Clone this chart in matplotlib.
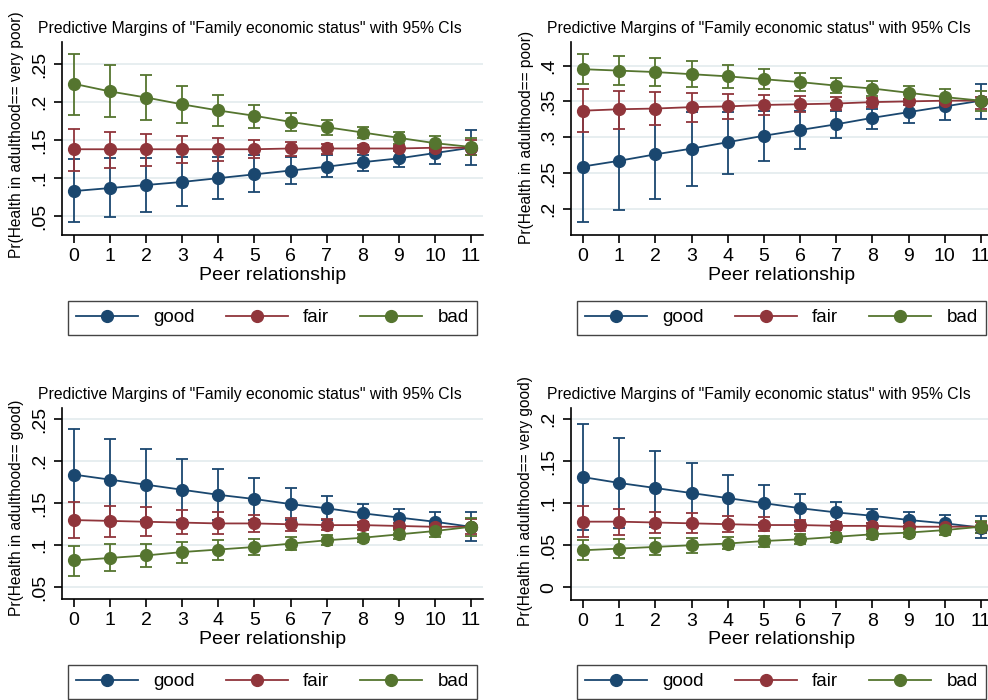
import matplotlib
matplotlib.use("Agg")
import matplotlib.pyplot as plt
from matplotlib.lines import Line2D
from matplotlib.ticker import FuncFormatter

plt.rcParams['font.family'] = ['Liberation Sans', 'DejaVu Sans']

x = list(range(12))
groups = ["good", "fair", "bad"]
colors = ["#1a476f", "#90353b", "#55752f"]

# panel 1: Pr(Health in adulthood== very poor)
vp_good = [0.083, 0.087, 0.091, 0.095, 0.100, 0.105, 0.110, 0.115, 0.121, 0.126, 0.133, 0.140]
vp_good_lo = [0.042, 0.049, 0.056, 0.064, 0.072, 0.082, 0.092, 0.101, 0.110, 0.115, 0.118, 0.117]
vp_good_hi = [0.125, 0.126, 0.126, 0.128, 0.128, 0.130, 0.128, 0.130, 0.131, 0.136, 0.142, 0.163]
vp_fair = [0.138, 0.138, 0.138, 0.138, 0.138, 0.138, 0.139, 0.139, 0.139, 0.139, 0.140, 0.140]
vp_fair_lo = [0.110, 0.114, 0.116, 0.120, 0.122, 0.126, 0.129, 0.132, 0.135, 0.136, 0.137, 0.130]
vp_fair_hi = [0.164, 0.161, 0.158, 0.155, 0.153, 0.150, 0.148, 0.145, 0.143, 0.142, 0.142, 0.150]
vp_bad = [0.224, 0.214, 0.206, 0.197, 0.189, 0.182, 0.174, 0.167, 0.160, 0.153, 0.146, 0.141]
vp_bad_lo = [0.183, 0.180, 0.176, 0.173, 0.169, 0.166, 0.162, 0.157, 0.153, 0.145, 0.139, 0.130]
vp_bad_hi = [0.263, 0.249, 0.235, 0.221, 0.209, 0.196, 0.186, 0.176, 0.167, 0.161, 0.156, 0.153]

# panel 2: Pr(Health in adulthood== poor)
p_good = [0.259, 0.267, 0.276, 0.284, 0.293, 0.302, 0.310, 0.318, 0.327, 0.335, 0.343, 0.351]
p_good_lo = [0.181, 0.198, 0.214, 0.232, 0.249, 0.267, 0.283, 0.299, 0.312, 0.320, 0.324, 0.326]
p_good_hi = [0.337, 0.337, 0.336, 0.335, 0.335, 0.337, 0.336, 0.336, 0.340, 0.345, 0.354, 0.375]
p_fair = [0.337, 0.339, 0.340, 0.342, 0.343, 0.345, 0.346, 0.347, 0.349, 0.350, 0.351, 0.351]
p_fair_lo = [0.307, 0.312, 0.317, 0.321, 0.326, 0.331, 0.335, 0.338, 0.342, 0.345, 0.347, 0.340]
p_fair_hi = [0.367, 0.365, 0.363, 0.362, 0.360, 0.359, 0.357, 0.356, 0.355, 0.354, 0.354, 0.356]
p_bad = [0.395, 0.393, 0.391, 0.388, 0.385, 0.381, 0.377, 0.372, 0.368, 0.362, 0.356, 0.351]
p_bad_lo = [0.375, 0.373, 0.372, 0.370, 0.369, 0.367, 0.365, 0.362, 0.358, 0.353, 0.350, 0.336]
p_bad_hi = [0.416, 0.413, 0.410, 0.406, 0.401, 0.395, 0.389, 0.383, 0.378, 0.372, 0.368, 0.365]

# panel 3: Pr(Health in adulthood== good)
g_good = [0.184, 0.178, 0.172, 0.166, 0.160, 0.155, 0.149, 0.144, 0.138, 0.133, 0.128, 0.122]
g_good_lo = [0.130, 0.130, 0.130, 0.130, 0.130, 0.130, 0.130, 0.130, 0.128, 0.122, 0.116, 0.105]
g_good_hi = [0.238, 0.226, 0.215, 0.203, 0.191, 0.180, 0.168, 0.158, 0.149, 0.143, 0.140, 0.140]
g_fair = [0.130, 0.129, 0.128, 0.127, 0.126, 0.126, 0.125, 0.124, 0.124, 0.123, 0.122, 0.122]
g_fair_lo = [0.109, 0.110, 0.111, 0.113, 0.114, 0.116, 0.117, 0.118, 0.118, 0.119, 0.119, 0.114]
g_fair_hi = [0.151, 0.147, 0.145, 0.142, 0.139, 0.136, 0.133, 0.131, 0.128, 0.127, 0.126, 0.131]
g_bad = [0.082, 0.085, 0.088, 0.092, 0.095, 0.098, 0.102, 0.106, 0.109, 0.113, 0.117, 0.122]
g_bad_lo = [0.064, 0.069, 0.074, 0.079, 0.083, 0.088, 0.094, 0.100, 0.104, 0.108, 0.110, 0.111]
g_bad_hi = [0.099, 0.101, 0.102, 0.104, 0.106, 0.108, 0.110, 0.112, 0.114, 0.118, 0.124, 0.132]

# panel 4: Pr(Health in adulthood== very good)
vg_good = [0.131, 0.124, 0.118, 0.112, 0.106, 0.100, 0.094, 0.089, 0.085, 0.080, 0.076, 0.071]
vg_good_lo = [0.068, 0.070, 0.072, 0.074, 0.076, 0.077, 0.078, 0.078, 0.077, 0.073, 0.068, 0.058]
vg_good_hi = [0.194, 0.178, 0.162, 0.148, 0.134, 0.122, 0.111, 0.101, 0.093, 0.089, 0.086, 0.085]
vg_fair = [0.078, 0.078, 0.077, 0.076, 0.075, 0.074, 0.074, 0.073, 0.073, 0.072, 0.072, 0.072]
vg_fair_lo = [0.060, 0.062, 0.064, 0.065, 0.066, 0.067, 0.067, 0.068, 0.069, 0.069, 0.069, 0.065]
vg_fair_hi = [0.097, 0.093, 0.090, 0.088, 0.085, 0.083, 0.080, 0.078, 0.077, 0.076, 0.075, 0.078]
vg_bad = [0.044, 0.046, 0.048, 0.050, 0.052, 0.055, 0.057, 0.060, 0.063, 0.065, 0.068, 0.072]
vg_bad_lo = [0.032, 0.035, 0.038, 0.041, 0.045, 0.048, 0.051, 0.054, 0.057, 0.060, 0.062, 0.064]
vg_bad_hi = [0.056, 0.057, 0.058, 0.059, 0.060, 0.061, 0.063, 0.065, 0.067, 0.070, 0.074, 0.079]

title = 'Predictive Margins of "Family economic status" with 95% CIs'

panels = [
    dict(pos=[0.0628, 0.664, 0.426, 0.276], ylim=(0.025, 0.279),
         yticks=[0.05, 0.1, 0.15, 0.2, 0.25],
         ylabel="Pr(Health in adulthood== very poor)",
         title_xy=(0.253, 0.959), ylabel_xy=(0.017, 0.807), leg_y=0.546,
         series=[(vp_good, vp_good_lo, vp_good_hi), (vp_fair, vp_fair_lo, vp_fair_hi),
                 (vp_bad, vp_bad_lo, vp_bad_hi)]),
    dict(pos=[0.578, 0.664, 0.427, 0.276], ylim=(0.163, 0.433),
         yticks=[0.2, 0.25, 0.3, 0.35, 0.4],
         ylabel="Pr(Health in adulthood== poor)",
         title_xy=(0.768, 0.959), ylabel_xy=(0.533, 0.804), leg_y=0.546,
         series=[(p_good, p_good_lo, p_good_hi), (p_fair, p_fair_lo, p_fair_hi),
                 (p_bad, p_bad_lo, p_bad_hi)]),
    dict(pos=[0.0628, 0.144, 0.426, 0.273], ylim=(0.036, 0.263),
         yticks=[0.05, 0.1, 0.15, 0.2, 0.25],
         ylabel="Pr(Health in adulthood== good)",
         title_xy=(0.253, 0.436), ylabel_xy=(0.017, 0.274), leg_y=0.026,
         series=[(g_good, g_good_lo, g_good_hi), (g_fair, g_fair_lo, g_fair_hi),
                 (g_bad, g_bad_lo, g_bad_hi)]),
    dict(pos=[0.578, 0.143, 0.427, 0.274], ylim=(-0.015, 0.213),
         yticks=[0, 0.05, 0.1, 0.15, 0.2],
         ylabel="Pr(Health in adulthood== very good)",
         title_xy=(0.768, 0.436), ylabel_xy=(0.532, 0.284), leg_y=0.026,
         series=[(vg_good, vg_good_lo, vg_good_hi), (vg_fair, vg_fair_lo, vg_fair_hi),
                 (vg_bad, vg_bad_lo, vg_bad_hi)]),
]


def stata_fmt(v, pos):
    if abs(v) < 1e-9:
        return "0"
    s = ("%.2f" % v).rstrip("0")
    return s[1:] if s.startswith("0") else s


fig = plt.figure(figsize=(9.88, 7), dpi=100)

for p in panels:
    ax = fig.add_axes(p["pos"])
    for (m, lo, hi), c in zip(p["series"], colors):
        yerr = [[mi - l for mi, l in zip(m, lo)], [h - mi for mi, h in zip(m, hi)]]
        ax.errorbar(x, m, yerr=yerr, color=c, lw=1.3, marker="o", ms=8.5,
                    capsize=4.2, capthick=1.3, elinewidth=1.3)
    ax.set_xlim(-0.33, 11.33)
    ax.set_ylim(*p["ylim"])
    ax.set_xticks(x)
    ax.set_yticks(p["yticks"])
    ax.yaxis.set_major_formatter(FuncFormatter(stata_fmt))
    ax.grid(axis="y", color="#e3ebee", lw=1.2)
    ax.set_axisbelow(True)
    for s in ["top", "right"]:
        ax.spines[s].set_visible(False)
    for s in ["left", "bottom"]:
        ax.spines[s].set_linewidth(1.2)
    ax.tick_params(axis="both", length=6, width=1.2, labelsize=14)
    ax.tick_params(axis="y", pad=4)
    for lab in ax.get_yticklabels():
        lab.set_rotation(90)
        lab.set_va("center")
    ax.set_xlabel("Peer relationship", fontsize=14, labelpad=1)
    fig.text(*p["title_xy"], title, fontsize=11.3, ha="center", va="center")
    fig.text(*p["ylabel_xy"], p["ylabel"], fontsize=11.2, rotation=90,
             ha="center", va="center")

    handles = [Line2D([0], [0], color=c, lw=1.3, marker="o", ms=8.5) for c in colors]
    x0 = p["pos"][0] + 0.006
    fig.legend(handles, groups, loc="center", ncol=3, mode="expand",
               bbox_to_anchor=(x0, p["leg_y"], 0.414, 0.0), bbox_transform=fig.transFigure,
               borderaxespad=0, fontsize=13.5, handlelength=3.3, handletextpad=0.8,
               columnspacing=1.6, borderpad=0.45, fancybox=False, framealpha=1,
               edgecolor="#444444")

fig.savefig("out.png", dpi=100)
